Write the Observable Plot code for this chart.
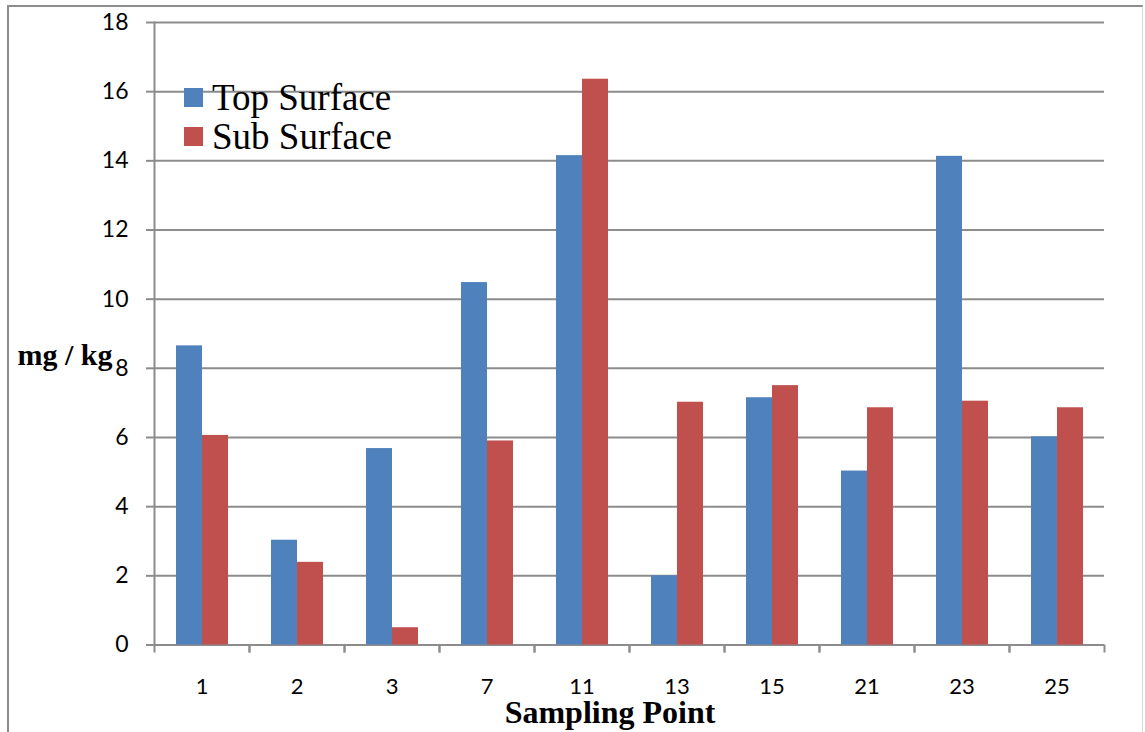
<!DOCTYPE html>
<html>
<head>
<meta charset="utf-8">
<script src="https://cdn.jsdelivr.net/npm/d3@7"></script>
<script src="https://cdn.jsdelivr.net/npm/@observablehq/plot@0.6"></script>
<style>
  html, body { margin: 0; padding: 0; background: #fff; }
  #wrap { position: relative; width: 1145px; height: 732px; overflow: hidden; }
  #border { position: absolute; left: 7px; top: 5px; width: 1133px; height: 760px;
            border-left: 2px solid #8c8c8c; border-top: 2px solid #8c8c8c; border-right: 1px solid #d8d8d8; }
  #legend { position: absolute; left: 184px; top: 78px; font-family: "Liberation Serif", "Times New Roman", serif;
            font-size: 37px; line-height: 39px; color: #000; }
  #legend .row { display: flex; align-items: center; white-space: nowrap; }
  #legend .sw { width: 19px; height: 19px; margin-right: 9px; display: inline-block; }
  #chart { position: absolute; left: 0; top: 0; }
</style>
</head>
<body>
<div id="wrap">
  <div id="border"></div>
  <div id="chart"></div>
  <div id="legend"></div>
</div>
<script>
const points = ["1", "2", "3", "7", "11", "13", "15", "21", "23", "25"];
const topSurface = [8.65, 3.03, 5.68, 10.48, 14.15, 2.0, 7.15, 5.03, 14.13, 6.02];
const subSurface = [6.06, 2.39, 0.5, 5.9, 16.36, 7.02, 7.5, 6.86, 7.05, 6.86];
const seriesNames = ["Top Surface", "Sub Surface"];
const seriesColors = ["#4f81bd", "#c0504d"];
const yTicks = [0, 2, 4, 6, 8, 10, 12, 14, 16, 18];
const yTitle = "mg / kg";
const xTitle = "Sampling Point";

const data = [];
points.forEach((p, i) => {
  data.push({point: p, series: seriesNames[0], value: topSurface[i]});
  data.push({point: p, series: seriesNames[1], value: subSurface[i]});
});

const gray = "#8c8c8c";
const tickFont = "Lato, 'Open Sans', sans-serif";
const serif = "'Liberation Serif', 'Times New Roman', serif";

const chart = Plot.plot({
  width: 1145,
  height: 732,
  marginLeft: 154,
  marginRight: 41,
  marginTop: 22,
  marginBottom: 87.5,
  style: {background: "transparent", fontFamily: tickFont, color: "#000", overflow: "visible"},
  fx: {domain: points, padding: 0, axis: null},
  x: {domain: seriesNames, paddingInner: 0, paddingOuter: 0.77, axis: null},
  y: {domain: [0, 18], axis: null},
  color: {domain: seriesNames, range: seriesColors},
  marks: [
    Plot.gridY(yTicks, {stroke: gray, strokeOpacity: 1, strokeWidth: 2}),
    Plot.barY(data, {fx: "point", x: "series", y: "value", fill: "series"}),
    Plot.frame({anchor: "left", stroke: gray, strokeWidth: 2, facetAnchor: "left"}),
    Plot.axisY(yTicks, {anchor: "left", tickSize: 8, tickPadding: 18, fontSize: 23, stroke: gray, strokeWidth: 2, label: null, fill: "#000"}),
    Plot.axisFx({anchor: "bottom", tickSize: 0, tickPadding: 33, fontSize: 22, label: null, fill: "#000"}),
    Plot.axisFx({anchor: "bottom", tickSize: 8, text: null, dx: -47.5, stroke: gray, strokeWidth: 2, label: null}),
    Plot.axisFx(["25"], {anchor: "bottom", tickSize: 8, text: null, dx: 47.5, stroke: gray, strokeWidth: 2, label: null}),
    Plot.text([yTitle], {frameAnchor: "left", facetAnchor: "left", dx: -137, dy: 22, textAnchor: "start",
      fontFamily: serif, fontWeight: "bold", fontSize: 30, fill: "#000"}),
    Plot.text([xTitle], {fx: ["11"], frameAnchor: "bottom", dx: 28, dy: 78, textAnchor: "middle",
      fontFamily: serif, fontWeight: "bold", fontSize: 32, fill: "#000"})
  ]
});
document.getElementById("chart").appendChild(chart);

const legend = document.getElementById("legend");
seriesNames.forEach((name, i) => {
  const row = document.createElement("div");
  row.className = "row";
  const sw = document.createElement("span");
  sw.className = "sw";
  sw.style.background = seriesColors[i];
  row.appendChild(sw);
  row.appendChild(document.createTextNode(name));
  legend.appendChild(row);
});
</script>
</body>
</html>
